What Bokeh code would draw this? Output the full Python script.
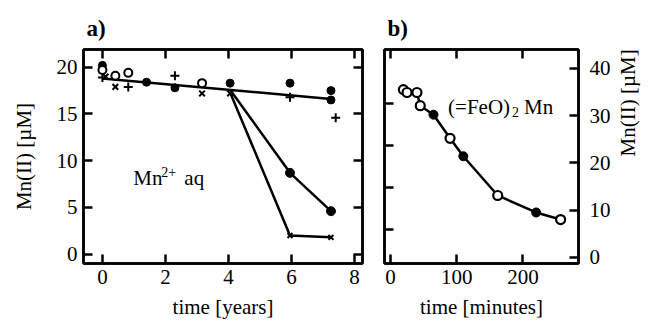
import math
from bokeh.plotting import figure
from bokeh.layouts import row
from bokeh.models import LinearAxis, FixedTicker, Range1d, Label, CustomJSTickFormatter
from bokeh.embed import file_html
from bokeh.resources import INLINE

# ---------------- Panel a: Mn2+ aq, time in years ----------------
a_filled_x = [0.0, 1.4, 2.3, 4.05, 5.95, 7.25, 7.25]
a_filled_y = [20.2, 18.4, 17.8, 18.3, 18.3, 17.5, 16.5]
a_open_x = [0.0, 0.41, 0.82, 3.16]
a_open_y = [19.7, 19.1, 19.4, 18.3]
a_plus_x = [0.0, 0.82, 2.3, 5.95, 7.4]
a_plus_y = [18.9, 17.9, 19.1, 16.8, 14.6]
a_cross_x = [0.1, 0.41, 3.16, 4.05]
a_cross_y = [19.0, 17.9, 17.2, 17.2]
a_fit_x = [0.0, 7.25]
a_fit_y = [18.8, 16.6]
a_drop1_x = [4.05, 5.95, 7.25]
a_drop1_y = [17.6, 8.7, 4.6]
a_drop2_x = [4.05, 5.95, 7.25]
a_drop2_y = [17.3, 2.0, 1.8]
a_xticks = [0, 2, 4, 6, 8]
a_yticks = [0, 5, 10, 15, 20]

# ---------------- Panel b: (=FeO)2 Mn, time in minutes ----------------
b_x = [19.5, 25, 40, 45, 65, 90, 110, 162, 220, 257]
b_y = [35.5, 34.9, 34.9, 32.1, 30.2, 25.2, 21.4, 13.1, 9.5, 8.0]
b_filled = [False, False, False, False, True, False, True, False, True, False]
b_xticks = [0, 100, 200]
b_yticks = [0, 10, 20, 30, 40]
b_left_ticks = [5.9, 14.8, 23.7, 32.6]

FONT = "Liberation Serif"
TICK_SIZE = "21px"
LABEL_SIZE = "21px"


def style_axis(ax, ticks, labels=True):
    ax.ticker = FixedTicker(ticks=ticks)
    ax.major_tick_in = 9
    ax.major_tick_out = 0
    ax.minor_tick_line_color = None
    ax.major_tick_line_width = 2.5
    ax.major_tick_line_color = "black"
    ax.axis_line_width = 2.5
    ax.axis_line_color = "black"
    ax.major_label_text_font = FONT
    ax.major_label_text_font_size = TICK_SIZE
    ax.major_label_text_color = "black"
    ax.axis_label_text_font = FONT
    ax.axis_label_text_font_size = LABEL_SIZE
    ax.axis_label_text_font_style = "normal"
    ax.axis_label_text_color = "black"
    if not labels:
        ax.formatter = CustomJSTickFormatter(code="return ''")
        ax.major_label_standoff = 0


def base_style(p, title):
    p.title.text = title
    p.title.text_font = FONT
    p.title.text_font_size = "23px"
    p.title.text_font_style = "bold"
    p.title.text_color = "black"
    p.title.align = "left"
    p.title.offset = 3
    p.title.standoff = 18
    p.grid.visible = False
    p.outline_line_color = "black"
    p.outline_line_width = 2.5
    p.background_fill_color = "white"
    p.border_fill_color = "white"


def txt(p, x, y, text, size, dx=0, dy=0):
    p.add_layout(Label(x=x, y=y, x_offset=dx, y_offset=dy, text=text, text_font=FONT,
                       text_font_size=size, text_color="black",
                       text_baseline="middle", text_align="left"))


# ---------------- figure a ----------------
pa = figure(width=372, height=322, x_range=Range1d(-0.6, 8.25), y_range=Range1d(-1.0, 21.9),
            output_backend="svg", toolbar_location=None,
            min_border_left=83, min_border_right=10, min_border_top=49, min_border_bottom=59)
base_style(pa, "a)")
style_axis(pa.xaxis[0], a_xticks)
style_axis(pa.yaxis[0], a_yticks)
pa.xaxis[0].axis_label = "time [years]"
pa.yaxis[0].axis_label = "Mn(II) [µM]"
pa.xaxis[0].major_label_standoff = 6
pa.xaxis[0].axis_label_standoff = 8
pa.yaxis[0].major_label_standoff = 6
pa.yaxis[0].axis_label_standoff = 18
ax_top = LinearAxis()
style_axis(ax_top, a_xticks, labels=False)
pa.add_layout(ax_top, "above")
ax_right = LinearAxis()
style_axis(ax_right, a_yticks, labels=False)
pa.add_layout(ax_right, "right")

pa.line(a_fit_x, a_fit_y, line_color="black", line_width=2.5)
pa.line(a_drop1_x, a_drop1_y, line_color="black", line_width=2.5)
pa.line(a_drop2_x, a_drop2_y, line_color="black", line_width=2.5)
pa.scatter(a_filled_x, a_filled_y, marker="circle", size=8, fill_color="black", line_color="black")
pa.scatter(a_drop1_x[1:], a_drop1_y[1:], marker="circle", size=9, fill_color="black", line_color="black")
pa.scatter(a_open_x, a_open_y, marker="circle", size=8, fill_color="white", line_color="black", line_width=2)
pa.scatter(a_plus_x, a_plus_y, marker="cross", size=9, line_color="black", line_width=2)
pa.scatter(a_cross_x, a_cross_y, marker="x", size=8, line_color="black", line_width=2)
pa.scatter(a_drop2_x[1:], a_drop2_y[1:], marker="x", size=7, line_color="black", line_width=2)

txt(pa, 0.98, 8.2, "Mn", "21px")
txt(pa, 0.98, 8.2, "2+", "14px", dx=28, dy=6)
txt(pa, 0.98, 8.2, "aq", "21px", dx=51)

# ---------------- figure b ----------------
pb = figure(width=282, height=322, x_range=Range1d(-9, 284), y_range=Range1d(-1.3, 44),
            output_backend="svg", toolbar_location=None, y_axis_location="right",
            min_border_left=12, min_border_right=75, min_border_top=49, min_border_bottom=59)
base_style(pb, "b)")
style_axis(pb.xaxis[0], b_xticks)
style_axis(pb.yaxis[0], b_yticks)
pb.xaxis[0].axis_label = "time [minutes]"
pb.yaxis[0].axis_label = "Mn(II) [µM]"
pb.yaxis[0].axis_label_orientation = math.pi / 2
pb.xaxis[0].major_label_standoff = 11
pb.xaxis[0].axis_label_standoff = 8
pb.xaxis[0].major_label_standoff = 6
pb.yaxis[0].major_label_standoff = 11
pb.yaxis[0].axis_label_standoff = 14
bx_top = LinearAxis()
style_axis(bx_top, b_xticks, labels=False)
pb.add_layout(bx_top, "above")
by_left = LinearAxis()
style_axis(by_left, b_left_ticks, labels=False)
pb.add_layout(by_left, "left")

pb.line(b_x, b_y, line_color="black", line_width=2.5)
bx_open = [x for x, f in zip(b_x, b_filled) if not f]
by_open = [y for y, f in zip(b_y, b_filled) if not f]
bx_fill = [x for x, f in zip(b_x, b_filled) if f]
by_fill = [y for y, f in zip(b_y, b_filled) if f]
pb.scatter(bx_open, by_open, marker="circle", size=9, fill_color="white", line_color="black", line_width=2.2)
pb.scatter(bx_fill, by_fill, marker="circle", size=9, fill_color="black", line_color="black")

txt(pb, 87, 31.8, "(=FeO)", "21px")
txt(pb, 87, 31.8, "2", "14px", dx=64, dy=-5)
txt(pb, 87, 31.8, "Mn", "21px", dx=76)

layout = row(pa, pb)
open("out.html", "w").write(file_html(layout, INLINE))
